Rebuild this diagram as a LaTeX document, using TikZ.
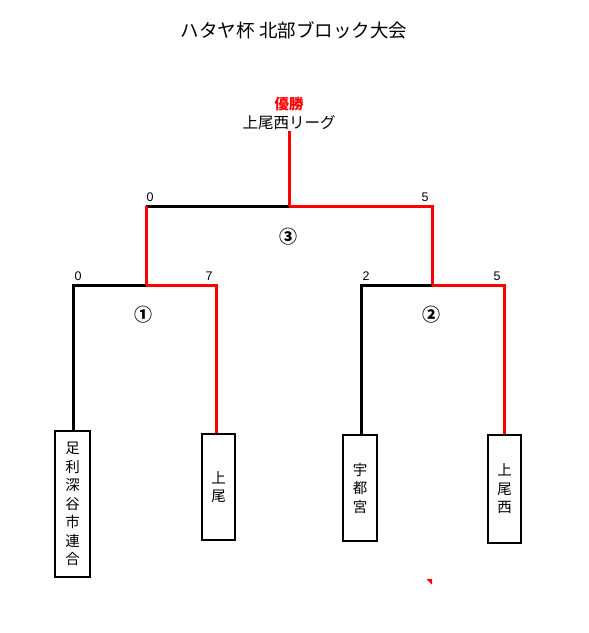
\documentclass[tikz,border=0pt]{standalone}
\usepackage{fontspec}
\newfontfamily\jp{Noto Sans CJK JP}
\newfontfamily\arl{Liberation Sans}
\definecolor{redl}{RGB}{255,0,0}
\begin{document}
\begin{tikzpicture}[x=1pt,y=-1pt,
  blk/.style={line width=3pt,black},
  rd/.style={line width=3pt,redl},
  team/.style={draw,line width=1.3pt,fill=white,inner sep=0pt,align=center,font=\jp\fontsize{14.5}{18.5}\selectfont},
  score/.style={font=\arl\fontsize{12.5}{14}\selectfont,inner sep=0pt},
  circ/.style={font=\jp\bfseries\fontsize{18}{19}\selectfont,inner sep=0pt}]
\useasboundingbox (0,0) rectangle (589,633);
% title
\node[font=\jp\fontsize{18.5}{20}\selectfont,inner sep=0pt] (title) at (294,30) {ハタヤ杯 北部ブロック大会};
% winner
\node[font=\jp\bfseries\fontsize{14.5}{16}\selectfont,text=redl,inner sep=0pt] (champ) at (289,104) {優勝};
\node[font=\jp\fontsize{15.5}{17}\selectfont,inner sep=0pt] (winner) at (289,123) {上尾西リーグ};
% coordinates
\coordinate (top) at (289,206);
\coordinate (t1) at (146,206);
\coordinate (t2) at (432,206);
\coordinate (m1) at (146,285);
\coordinate (m2) at (432,285);
% teams
\node[team,minimum width=35pt,minimum height=146pt] (b1) at (72.5,504) {足\\利\\深\\谷\\市\\連\\合};
\node[team,minimum width=33pt,minimum height=106pt] (b2) at (218.5,487) {上\\尾};
\node[team,minimum width=34pt,minimum height=106pt] (b3) at (360,488) {宇\\都\\宮};
\node[team,minimum width=33pt,minimum height=108pt] (b4) at (504.5,489) {上\\尾\\西};
% bracket lines
\draw[blk] (73,0 |- b1.north) |- (m1);
\draw[blk] (361,0 |- b3.north) |- (m2);
\draw[blk] (t1) -- (top);
\draw[rd] (216,0 |- b2.north) |- (m1);
\draw[rd] (504,0 |- b4.north) |- (m2);
\draw[rd] (m1) -- (t1);
\draw[rd] (top) -- (t2) -- (m2);
\draw[rd] (top) -- ([yshift=-1pt]winner.south);
% scores
\node[score] (s1) at (78,276) {0};
\node[score] (s2) at (209,276) {7};
\node[score] (s3) at (366,276) {2};
\node[score] (s4) at (497,276) {5};
\node[score] (s5) at (150,197) {0};
\node[score] (s6) at (425,197) {5};
% match numbers
\node[circ] (c1) at (143,315) {①};
\node[circ] (c2) at (431,315) {②};
\node[circ] (c3) at (288,237) {③};
% small marker
\fill[redl] (426.5,579) -- (432,579) -- (432,584.5) -- cycle;
\end{tikzpicture}
\end{document}
